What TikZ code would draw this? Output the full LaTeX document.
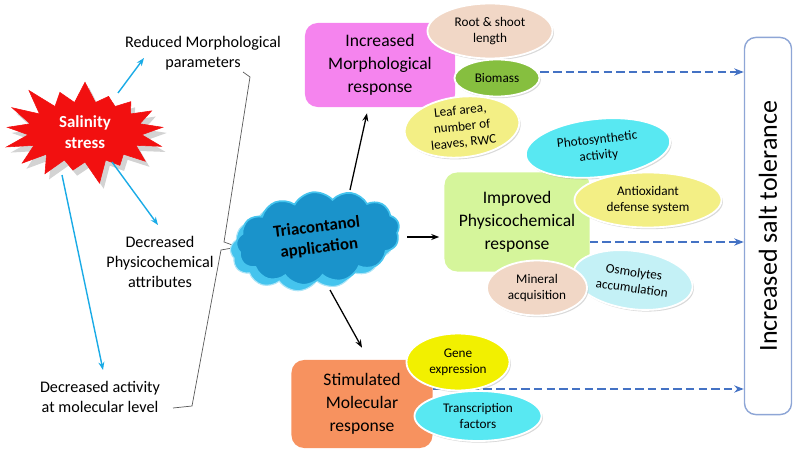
\documentclass[tikz,border=0pt]{standalone}
\usepackage{fontspec}
\setmainfont{Carlito}
\usetikzlibrary{positioning,arrows.meta,calc,shapes.geometric,shapes.symbols,
                shadows,backgrounds}
\definecolor{stred}{HTML}{F21010}
\definecolor{stsky}{HTML}{1AABE6}
\definecolor{stdash}{HTML}{4472C4}
\definecolor{stpink}{HTML}{F584EE}
\definecolor{stlime}{HTML}{D5F59B}
\definecolor{storange}{HTML}{F7925F}
\definecolor{stpeach}{HTML}{F1D7C6}
\definecolor{stolive}{HTML}{86BF3F}
\definecolor{stlemon}{HTML}{F3EF85}
\definecolor{staqua}{HTML}{58E8F2}
\definecolor{stice}{HTML}{C4F1F6}
\definecolor{styellow}{HTML}{F2F000}
\definecolor{stcloud}{HTML}{1A93CB}
\definecolor{strim}{HTML}{45C4EE}
\definecolor{stframe}{HTML}{8EA6D6}
\tikzset{
  lbl/.style   ={align=center, font=\fontsize{11.5}{14.5}\selectfont},
  resp/.style  ={rounded corners=9pt, inner sep=0pt, align=center,
                 font=\fontsize{12.5}{16.2}\selectfont},
  oval/.style  ={ellipse, draw=white, line width=1.3pt, inner sep=0pt, align=center,
                 font=\fontsize{9.4}{11.4}\selectfont,
                 drop shadow={opacity=0.3, shadow xshift=1pt, shadow yshift=-1.2pt}},
  burst/.style ={starburst, fill=stred, draw=stred, minimum width=4.35cm,
                 minimum height=2.45cm, starburst points=17, starburst point height=0.75cm,
                 random starburst=41, align=center, text=white,
                 font=\fontsize{12}{15}\selectfont\bfseries,
                 drop shadow={opacity=0.35, shadow xshift=3pt, shadow yshift=-4pt}},
  puff/.style  ={cloud, cloud puffs=13, cloud puff arc=110, aspect=1.8,
                 minimum width=4.1cm, minimum height=2.3cm, rotate=7},
  sky/.style   ={-{Stealth[length=2mm]}, draw=stsky, line width=1pt},
  blk/.style   ={-{Stealth[length=2mm]}, line width=0.9pt},
  dashy/.style ={-{Stealth[length=2.4mm]}, draw=stdash, line width=1.8pt,
                 dash pattern=on 6pt off 3pt},
}
\newcommand{\bub}[7]{%
  \node[oval, fill=#3, minimum width=#4, minimum height=#5, rotate=#6] (#1) at #2 {#7};}

\begin{document}
\begin{tikzpicture}[x=0.025cm,y=-0.025cm]
  \useasboundingbox (0,0) rectangle (794,459);
  % salinity side
  \node[burst] (salt) at (85,132) {Salinity\\stress};
  \node[lbl] (redm) at (203,53) {Reduced Morphological\\parameters};
  \node[lbl] (decp) at (160,262) {Decreased\\Physicochemical\\attributes};
  \node[lbl] (deca) at (100,397) {Decreased activity\\at molecular level};
  \coordinate (t1) at (144,58);
  \coordinate (t2) at (158,225);
  \coordinate (t3) at (103,370);
  \draw[sky] ($(salt.center)+(33,-39)$) -- (t1);
  \draw[sky] ($(salt.center)+(27,30)$) -- (t2);
  \draw[sky] ($(salt.center)+(-23,43)$) -- (t3);
  \coordinate (tip) at (238,247);
  \draw[black!65, line width=0.5pt] (243,72) -- (250,77) -- (224,242) -- (tip)
        -- (221,250) -- (192,406) -- (173,408);
  % triacontanol
  \node[puff, fill=strim, draw=strim!45!white, line width=0.8pt] (cloudb) at (312,244) {};
  \node[puff, fill=stcloud, draw=strim, line width=1.2pt, align=center,
        font=\fontsize{12}{15}\selectfont\bfseries] (cloud) at (318,238)
        {Triacontanol\\application};
  % responses
  \node[resp, fill=stpink, minimum width=3.75cm, minimum height=2.1cm] (morph)
        at (380,65) {Increased\\Morphological\\response};
  \node[resp, fill=stlime, minimum width=3.625cm, minimum height=2.475cm] (phys)
        at (517,222) {Improved\\Physicochemical\\response};
  \node[resp, fill=storange, minimum width=3.525cm, minimum height=2.2cm] (mol)
        at (362,404) {Stimulated\\Molecular\\response};
  \node[draw=stframe, line width=1pt, rounded corners=8pt, fill=white,
        minimum width=1.175cm, minimum height=9.425cm, inner sep=0pt,
        font=\fontsize{18.5}{22}\selectfont] (tol) at (768,226)
        {\rotatebox{90}{Increased salt tolerance}};
  \draw[blk] ($(cloud.center)+(32,-48)$) -- ($(morph.south)+(-13,6)$);
  \draw[blk] ($(cloud.center)+(89,-1)$) -- ($(phys.west)+(-5,15)$);
  \draw[blk] ($(cloud.center)+(12,52)$) -- ($(mol.north)+(0,-12)$);
  % ovals
  \bub{root}{(490,31)}{stpeach}{3.125cm}{1.375cm}{0}{Root \& shoot\\length}
  \bub{bio}{(497,78)}{stolive}{2.125cm}{0.925cm}{0}{Biomass}
  \bub{leaf}{(462,127)}{stlemon}{2.875cm}{1.5cm}{6}{Leaf area,\\number of\\leaves, RWC}
  \bub{photo}{(598,148)}{staqua}{3.625cm}{1.45cm}{6}{Photosynthetic\\activity}
  \bub{antiox}{(648,200)}{stlemon}{3.675cm}{1.375cm}{0}{Antioxidant\\defense system}
  \bub{osmo}{(633,280)}{stice}{3.0cm}{1.45cm}{-8}{Osmolytes\\accumulation}
  \bub{mineral}{(537,288)}{stpeach}{2.5cm}{1.375cm}{0}{Mineral\\acquisition}
  \bub{gene}{(458,362)}{styellow}{2.575cm}{1.425cm}{0}{Gene\\expression}
  \bub{trans}{(478,416)}{staqua}{3.175cm}{1.25cm}{0}{Transcription\\factors}
  % to tolerance
  \coordinate (d1) at ([yshift=0.15cm]bio.east);
  \coordinate (d2) at ([yshift=-0.5cm]phys.east);
  \coordinate (d3) at ([yshift=0.375cm]mol.east);
  \begin{scope}[on background layer]
    \foreach \d in {d1,d2,d3}
      \draw[dashy] (\d) -- (\d -| tol.west);
  \end{scope}
\end{tikzpicture}
\end{document}
